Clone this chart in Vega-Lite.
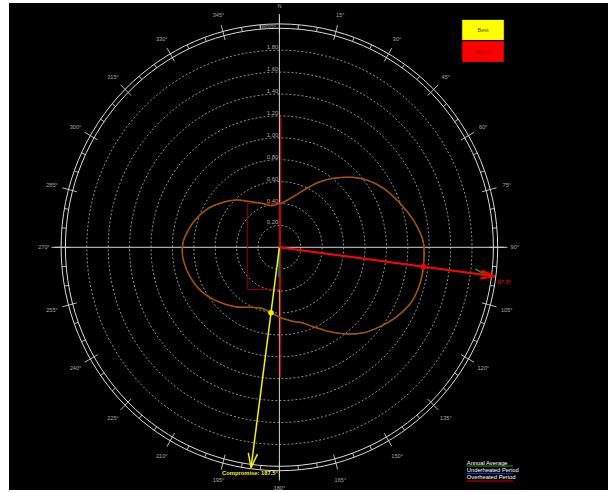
{
  "$schema": "https://vega.github.io/schema/vega-lite/v6.json",
  "width": 599,
  "height": 487,
  "autosize": "none",
  "padding": {"left": 9, "top": 3, "right": 8, "bottom": 3},
  "background": "white",
  "config": {"view": {"fill": "black", "stroke": null}, "font": "Liberation Sans"},
  "datasets": {
    "rings": [
      {"r": 0.2, "lab": "0.20"}, {"r": 0.4, "lab": "0.40"}, {"r": 0.6, "lab": "0.60"},
      {"r": 0.8, "lab": "0.80"}, {"r": 1.0, "lab": "1.00"}, {"r": 1.2, "lab": "1.20"},
      {"r": 1.4, "lab": "1.40"}, {"r": 1.6, "lab": "1.60"}, {"r": 1.8, "lab": "1.80"}
    ],
    "frame": [{"r": 2.0}, {"r": 2.04}],
    "axes": [{"a": 0}, {"a": 90}],
    "ticks": [
      {"a": 0, "k": "major"}, {"a": 5, "k": "minor"}, {"a": 10, "k": "minor"},
      {"a": 15, "k": "major"}, {"a": 20, "k": "minor"}, {"a": 25, "k": "minor"},
      {"a": 30, "k": "major"}, {"a": 35, "k": "minor"}, {"a": 40, "k": "minor"},
      {"a": 45, "k": "major"}, {"a": 50, "k": "minor"}, {"a": 55, "k": "minor"},
      {"a": 60, "k": "major"}, {"a": 65, "k": "minor"}, {"a": 70, "k": "minor"},
      {"a": 75, "k": "major"}, {"a": 80, "k": "minor"}, {"a": 85, "k": "minor"},
      {"a": 90, "k": "major"}, {"a": 95, "k": "minor"}, {"a": 100, "k": "minor"},
      {"a": 105, "k": "major"}, {"a": 110, "k": "minor"}, {"a": 115, "k": "minor"},
      {"a": 120, "k": "major"}, {"a": 125, "k": "minor"}, {"a": 130, "k": "minor"},
      {"a": 135, "k": "major"}, {"a": 140, "k": "minor"}, {"a": 145, "k": "minor"},
      {"a": 150, "k": "major"}, {"a": 155, "k": "minor"}, {"a": 160, "k": "minor"},
      {"a": 165, "k": "major"}, {"a": 170, "k": "minor"}, {"a": 175, "k": "minor"},
      {"a": 180, "k": "major"}, {"a": 185, "k": "minor"}, {"a": 190, "k": "minor"},
      {"a": 195, "k": "major"}, {"a": 200, "k": "minor"}, {"a": 205, "k": "minor"},
      {"a": 210, "k": "major"}, {"a": 215, "k": "minor"}, {"a": 220, "k": "minor"},
      {"a": 225, "k": "major"}, {"a": 230, "k": "minor"}, {"a": 235, "k": "minor"},
      {"a": 240, "k": "major"}, {"a": 245, "k": "minor"}, {"a": 250, "k": "minor"},
      {"a": 255, "k": "major"}, {"a": 260, "k": "minor"}, {"a": 265, "k": "minor"},
      {"a": 270, "k": "major"}, {"a": 275, "k": "minor"}, {"a": 280, "k": "minor"},
      {"a": 285, "k": "major"}, {"a": 290, "k": "minor"}, {"a": 295, "k": "minor"},
      {"a": 300, "k": "major"}, {"a": 305, "k": "minor"}, {"a": 310, "k": "minor"},
      {"a": 315, "k": "major"}, {"a": 320, "k": "minor"}, {"a": 325, "k": "minor"},
      {"a": 330, "k": "major"}, {"a": 335, "k": "minor"}, {"a": 340, "k": "minor"},
      {"a": 345, "k": "major"}, {"a": 350, "k": "minor"}, {"a": 355, "k": "minor"}
    ],
    "compass": [
      {"a": 0, "t": "N"}, {"a": 15, "t": "15°"}, {"a": 30, "t": "30°"}, {"a": 45, "t": "45°"},
      {"a": 60, "t": "60°"}, {"a": 75, "t": "75°"}, {"a": 90, "t": "90°"}, {"a": 105, "t": "105°"},
      {"a": 120, "t": "120°"}, {"a": 135, "t": "135°"}, {"a": 150, "t": "150°"}, {"a": 165, "t": "165°"},
      {"a": 180, "t": "180°"}, {"a": 195, "t": "195°"}, {"a": 210, "t": "210°"}, {"a": 225, "t": "225°"},
      {"a": 240, "t": "240°"}, {"a": 255, "t": "255°"}, {"a": 270, "t": "270°"}, {"a": 285, "t": "285°"},
      {"a": 300, "t": "300°"}, {"a": 315, "t": "315°"}, {"a": 330, "t": "330°"}, {"a": 345, "t": "345°"}
    ],
    "radiation": [
      {"a": 0, "r": 0.402}, {"a": 3, "r": 0.403}, {"a": 15.7, "r": 0.48}, {"a": 25.3, "r": 0.596},
      {"a": 32.3, "r": 0.709}, {"a": 38.7, "r": 0.807}, {"a": 45.9, "r": 0.919}, {"a": 53, "r": 1.022},
      {"a": 60.9, "r": 1.111}, {"a": 70.4, "r": 1.197}, {"a": 78.7, "r": 1.276}, {"a": 85.8, "r": 1.334},
      {"a": 90, "r": 1.351}, {"a": 97.5, "r": 1.357}, {"a": 104, "r": 1.355}, {"a": 111.9, "r": 1.332},
      {"a": 120, "r": 1.266}, {"a": 127.6, "r": 1.187}, {"a": 134.9, "r": 1.106}, {"a": 141.5, "r": 1.011},
      {"a": 148.5, "r": 0.905}, {"a": 156.4, "r": 0.791}, {"a": 163, "r": 0.72}, {"a": 169, "r": 0.69},
      {"a": 175, "r": 0.66}, {"a": 180, "r": 0.636}, {"a": 187.5, "r": 0.602}, {"a": 196.5, "r": 0.581},
      {"a": 205.3, "r": 0.606}, {"a": 217.5, "r": 0.683}, {"a": 229, "r": 0.757}, {"a": 240.8, "r": 0.831},
      {"a": 252.2, "r": 0.877}, {"a": 262.6, "r": 0.905}, {"a": 270, "r": 0.907}, {"a": 276.3, "r": 0.888},
      {"a": 287.5, "r": 0.827}, {"a": 298.2, "r": 0.754}, {"a": 309.3, "r": 0.657}, {"a": 317.3, "r": 0.588},
      {"a": 328, "r": 0.49}, {"a": 337.7, "r": 0.435}, {"a": 349, "r": 0.387}
    ],
    "vectors": [
      {"s": "under", "a1": 0, "r1": 0, "a2": 181, "r2": 0.27},
      {"s": "annual", "a1": 0, "r1": 0, "a2": 185, "r2": 0.18},
      {"s": "annual", "a1": 0, "r1": 0, "a2": 97.5, "r2": 1.96},
      {"s": "annual", "a1": 96.2, "r1": 1.84, "a2": 97.5, "r2": 1.96},
      {"s": "best", "a1": 0, "r1": 0, "a2": 187.5, "r2": 2.03},
      {"s": "best", "a1": 186.2, "r1": 1.9, "a2": 187.5, "r2": 2.03},
      {"s": "best", "a1": 188.8, "r1": 1.9, "a2": 187.5, "r2": 2.03},
      {"s": "worst", "a1": 0, "r1": 0, "a2": 97.5, "r2": 2.03},
      {"s": "worst", "a1": 96.4, "r1": 1.9, "a2": 97.5, "r2": 2.03},
      {"s": "worst", "a1": 98.6, "r1": 1.9, "a2": 97.5, "r2": 2.03}
    ],
    "picks": [
      {"s": "best", "a": 187.5, "r": 0.602},
      {"s": "worst", "a": 97.5, "r": 1.357}
    ]
  },
  "layer": [
    {
      "data": {"name": "rings"},
      "mark": {"type": "point", "shape": "M-1,0A1,1.0234,0,1,1,1,0A1,1.0234,0,1,1,-1,0Z", "filled": false, "stroke": "#b4b4b4", "strokeWidth": 0.8, "strokeDash": [2, 2], "opacity": 1},
      "encoding": {
        "x": {"datum": 0, "type": "quantitative", "scale": {"domain": [-2.5271, 3.071], "nice": false, "zero": false}, "axis": null},
        "y": {"datum": 0, "type": "quantitative", "scale": {"domain": [-2.2164, 2.2311], "nice": false, "zero": false}, "axis": null},
        "size": {"field": "r", "type": "quantitative", "scale": {"type": "pow", "exponent": 2, "domain": [0, 2], "range": [0, 183184]}, "legend": null}
      }
    },
    {
      "data": {"name": "frame"},
      "mark": {"type": "point", "shape": "M-1,0A1,1.0234,0,1,1,1,0A1,1.0234,0,1,1,-1,0Z", "filled": false, "stroke": "#dcdcdc", "strokeWidth": 1, "opacity": 1},
      "encoding": {
        "x": {"datum": 0, "type": "quantitative", "scale": {"domain": [-2.5271, 3.071], "nice": false, "zero": false}, "axis": null},
        "y": {"datum": 0, "type": "quantitative", "scale": {"domain": [-2.2164, 2.2311], "nice": false, "zero": false}, "axis": null},
        "size": {"field": "r", "type": "quantitative", "scale": {"type": "pow", "exponent": 2, "domain": [0, 2], "range": [0, 183184]}, "legend": null}
      }
    },
    {
      "data": {"name": "ticks"},
      "transform": [
        {"calculate": "datum.k == 'major' ? 1.96 : 2.0", "as": "r1"},
        {"calculate": "datum.k == 'major' ? 2.1 : 2.04", "as": "r2"},
        {"calculate": "datum.r1 * sin(datum.a * PI / 180)", "as": "x"},
        {"calculate": "datum.r1 * cos(datum.a * PI / 180)", "as": "y"},
        {"calculate": "datum.r2 * sin(datum.a * PI / 180)", "as": "x2"},
        {"calculate": "datum.r2 * cos(datum.a * PI / 180)", "as": "y2"}
      ],
      "mark": {"type": "rule", "color": "#d0d0d0", "strokeWidth": 0.9},
      "encoding": {
        "x": {"field": "x", "type": "quantitative", "scale": {"domain": [-2.5271, 3.071], "nice": false, "zero": false}, "axis": null},
        "y": {"field": "y", "type": "quantitative", "scale": {"domain": [-2.2164, 2.2311], "nice": false, "zero": false}, "axis": null},
        "x2": {"field": "x2"},
        "y2": {"field": "y2"}
      }
    },
    {
      "data": {"name": "axes"},
      "transform": [
        {"calculate": "2.13 * sin(datum.a * PI / 180)", "as": "x"},
        {"calculate": "2.13 * cos(datum.a * PI / 180)", "as": "y"},
        {"calculate": "-datum.x", "as": "x2"},
        {"calculate": "-datum.y", "as": "y2"}
      ],
      "mark": {"type": "rule", "color": "#d4d4d4", "strokeWidth": 1},
      "encoding": {
        "x": {"field": "x", "type": "quantitative", "scale": {"domain": [-2.5271, 3.071], "nice": false, "zero": false}, "axis": null},
        "y": {"field": "y", "type": "quantitative", "scale": {"domain": [-2.2164, 2.2311], "nice": false, "zero": false}, "axis": null},
        "x2": {"field": "x2"},
        "y2": {"field": "y2"}
      }
    },
    {
      "data": {"name": "rings"},
      "mark": {"type": "text", "align": "right", "baseline": "bottom", "dx": -1, "fontSize": 6, "color": "#a8a8a8"},
      "encoding": {
        "x": {"datum": 0, "type": "quantitative", "scale": {"domain": [-2.5271, 3.071], "nice": false, "zero": false}, "axis": null},
        "y": {"field": "r", "type": "quantitative", "scale": {"domain": [-2.2164, 2.2311], "nice": false, "zero": false}, "axis": null},
        "text": {"field": "lab"}
      }
    },
    {
      "data": {"name": "compass"},
      "transform": [
        {"calculate": "2.2 * sin(datum.a * PI / 180)", "as": "x"},
        {"calculate": "2.2 * cos(datum.a * PI / 180)", "as": "y"}
      ],
      "mark": {"type": "text", "align": "center", "baseline": "middle", "fontSize": 5.6, "color": "#a8a8a8"},
      "encoding": {
        "x": {"field": "x", "type": "quantitative", "scale": {"domain": [-2.5271, 3.071], "nice": false, "zero": false}, "axis": null},
        "y": {"field": "y", "type": "quantitative", "scale": {"domain": [-2.2164, 2.2311], "nice": false, "zero": false}, "axis": null},
        "text": {"field": "t"}
      }
    },
    {
      "data": {"values": [{"t": "kWh/m²"}]},
      "mark": {"type": "text", "align": "right", "baseline": "middle", "fontSize": 5, "color": "#a8a8a8"},
      "encoding": {
        "x": {"datum": -0.03, "type": "quantitative", "scale": {"domain": [-2.5271, 3.071], "nice": false, "zero": false}, "axis": null},
        "y": {"datum": 2.02, "type": "quantitative", "scale": {"domain": [-2.2164, 2.2311], "nice": false, "zero": false}, "axis": null},
        "text": {"field": "t"}
      }
    },
    {
      "data": {"values": [{"t": "period"}]},
      "mark": {"type": "rect", "fillOpacity": 0, "stroke": "#a00000", "strokeWidth": 1},
      "encoding": {
        "x": {"datum": -0.296, "type": "quantitative", "scale": {"domain": [-2.5271, 3.071], "nice": false, "zero": false}, "axis": null},
        "x2": {"datum": 0},
        "y": {"datum": -0.384, "type": "quantitative", "scale": {"domain": [-2.2164, 2.2311], "nice": false, "zero": false}, "axis": null},
        "y2": {"datum": 0.402}
      }
    },
    {
      "data": {"values": [{"t": "span"}]},
      "mark": {"type": "rule", "color": "#c80000", "strokeWidth": 1.2},
      "encoding": {
        "x": {"datum": 0.012, "type": "quantitative", "scale": {"domain": [-2.5271, 3.071], "nice": false, "zero": false}, "axis": null},
        "x2": {"datum": 0.008},
        "y": {"datum": 1.19, "type": "quantitative", "scale": {"domain": [-2.2164, 2.2311], "nice": false, "zero": false}, "axis": null},
        "y2": {"datum": -1.19}
      }
    },
    {
      "data": {"name": "vectors"},
      "transform": [
        {"filter": "datum.s == 'under' || datum.s == 'annual'"},
        {"calculate": "datum.r1 * sin(datum.a1 * PI / 180)", "as": "x"},
        {"calculate": "datum.r1 * cos(datum.a1 * PI / 180)", "as": "y"},
        {"calculate": "datum.r2 * sin(datum.a2 * PI / 180)", "as": "x2"},
        {"calculate": "datum.r2 * cos(datum.a2 * PI / 180)", "as": "y2"}
      ],
      "mark": {"type": "rule", "strokeWidth": 1.3},
      "encoding": {
        "x": {"field": "x", "type": "quantitative", "scale": {"domain": [-2.5271, 3.071], "nice": false, "zero": false}, "axis": null},
        "y": {"field": "y", "type": "quantitative", "scale": {"domain": [-2.2164, 2.2311], "nice": false, "zero": false}, "axis": null},
        "x2": {"field": "x2"},
        "y2": {"field": "y2"},
        "color": {"field": "s", "type": "nominal", "scale": {"domain": ["under", "annual", "best", "worst"], "range": ["#007a8a", "#1f9a1f", "#f2f200", "#ff0000"]}, "legend": null}
      }
    },
    {
      "data": {"name": "radiation"},
      "transform": [
        {"calculate": "datum.r * sin(datum.a * PI / 180)", "as": "x"},
        {"calculate": "datum.r * cos(datum.a * PI / 180)", "as": "y"}
      ],
      "mark": {"type": "line", "interpolate": "cardinal-closed", "color": "#1e8c1e", "strokeWidth": 1.5},
      "encoding": {
        "x": {"field": "x", "type": "quantitative", "scale": {"domain": [-2.5271, 3.071], "nice": false, "zero": false}, "axis": null},
        "y": {"field": "y", "type": "quantitative", "scale": {"domain": [-2.2164, 2.2311], "nice": false, "zero": false}, "axis": null},
        "order": {"field": "a", "type": "quantitative"}
      }
    },
    {
      "data": {"name": "radiation"},
      "transform": [
        {"calculate": "datum.r * sin(datum.a * PI / 180)", "as": "x"},
        {"calculate": "datum.r * cos(datum.a * PI / 180)", "as": "y"}
      ],
      "mark": {"type": "line", "interpolate": "cardinal-closed", "color": "#e83000", "strokeWidth": 1.05, "opacity": 1},
      "encoding": {
        "x": {"field": "x", "type": "quantitative", "scale": {"domain": [-2.5271, 3.071], "nice": false, "zero": false}, "axis": null},
        "y": {"field": "y", "type": "quantitative", "scale": {"domain": [-2.2164, 2.2311], "nice": false, "zero": false}, "axis": null},
        "order": {"field": "a", "type": "quantitative"}
      }
    },
    {
      "data": {"name": "vectors"},
      "transform": [
        {"filter": "datum.s == 'best'"},
        {"calculate": "datum.r1 * sin(datum.a1 * PI / 180)", "as": "x"},
        {"calculate": "datum.r1 * cos(datum.a1 * PI / 180)", "as": "y"},
        {"calculate": "datum.r2 * sin(datum.a2 * PI / 180)", "as": "x2"},
        {"calculate": "datum.r2 * cos(datum.a2 * PI / 180)", "as": "y2"}
      ],
      "mark": {"type": "rule", "strokeWidth": 1.5},
      "encoding": {
        "x": {"field": "x", "type": "quantitative", "scale": {"domain": [-2.5271, 3.071], "nice": false, "zero": false}, "axis": null},
        "y": {"field": "y", "type": "quantitative", "scale": {"domain": [-2.2164, 2.2311], "nice": false, "zero": false}, "axis": null},
        "x2": {"field": "x2"},
        "y2": {"field": "y2"},
        "color": {"field": "s", "type": "nominal", "scale": {"domain": ["under", "annual", "best", "worst"], "range": ["#007a8a", "#1f9a1f", "#f2f200", "#ff0000"]}, "legend": null}
      }
    },
    {
      "data": {"name": "vectors"},
      "transform": [
        {"filter": "datum.s == 'worst'"},
        {"calculate": "datum.r1 * sin(datum.a1 * PI / 180)", "as": "x"},
        {"calculate": "datum.r1 * cos(datum.a1 * PI / 180)", "as": "y"},
        {"calculate": "datum.r2 * sin(datum.a2 * PI / 180)", "as": "x2"},
        {"calculate": "datum.r2 * cos(datum.a2 * PI / 180)", "as": "y2"}
      ],
      "mark": {"type": "rule", "strokeWidth": 2},
      "encoding": {
        "x": {"field": "x", "type": "quantitative", "scale": {"domain": [-2.5271, 3.071], "nice": false, "zero": false}, "axis": null},
        "y": {"field": "y", "type": "quantitative", "scale": {"domain": [-2.2164, 2.2311], "nice": false, "zero": false}, "axis": null},
        "x2": {"field": "x2"},
        "y2": {"field": "y2"},
        "color": {"field": "s", "type": "nominal", "scale": {"domain": ["under", "annual", "best", "worst"], "range": ["#007a8a", "#1f9a1f", "#f2f200", "#ff0000"]}, "legend": null}
      }
    },
    {
      "data": {"name": "picks"},
      "transform": [
        {"calculate": "datum.r * sin(datum.a * PI / 180)", "as": "x"},
        {"calculate": "datum.r * cos(datum.a * PI / 180)", "as": "y"}
      ],
      "mark": {"type": "circle", "size": 30, "opacity": 1},
      "encoding": {
        "x": {"field": "x", "type": "quantitative", "scale": {"domain": [-2.5271, 3.071], "nice": false, "zero": false}, "axis": null},
        "y": {"field": "y", "type": "quantitative", "scale": {"domain": [-2.2164, 2.2311], "nice": false, "zero": false}, "axis": null},
        "color": {"field": "s", "type": "nominal", "scale": {"domain": ["under", "annual", "best", "worst"], "range": ["#007a8a", "#1f9a1f", "#f2f200", "#ff0000"]}, "legend": null}
      }
    },
    {
      "data": {"values": [{"t": "Compromise: 187.5°"}]},
      "mark": {"type": "text", "align": "center", "baseline": "middle", "fontSize": 5.8, "fontWeight": "bold", "color": "#f2f200"},
      "encoding": {
        "x": {"datum": -0.275, "type": "quantitative", "scale": {"domain": [-2.5271, 3.071], "nice": false, "zero": false}, "axis": null},
        "y": {"datum": -2.061, "type": "quantitative", "scale": {"domain": [-2.2164, 2.2311], "nice": false, "zero": false}, "axis": null},
        "text": {"field": "t"}
      }
    },
    {
      "data": {"values": [{"t": "97.5°"}]},
      "mark": {"type": "text", "align": "left", "baseline": "middle", "fontSize": 5.8, "color": "#ff0000"},
      "encoding": {
        "x": {"datum": 2.039, "type": "quantitative", "scale": {"domain": [-2.5271, 3.071], "nice": false, "zero": false}, "axis": null},
        "y": {"datum": -0.314, "type": "quantitative", "scale": {"domain": [-2.2164, 2.2311], "nice": false, "zero": false}, "axis": null},
        "text": {"field": "t"}
      }
    },
    {
      "data": {"values": [{"t": "Best"}]},
      "mark": {"type": "rect", "fill": "#ffff00", "stroke": "#000000", "strokeWidth": 1},
      "encoding": {
        "x": {"datum": 1.704, "type": "quantitative", "scale": {"domain": [-2.5271, 3.071], "nice": false, "zero": false}, "axis": null},
        "x2": {"datum": 2.102},
        "y": {"datum": 1.887, "type": "quantitative", "scale": {"domain": [-2.2164, 2.2311], "nice": false, "zero": false}, "axis": null},
        "y2": {"datum": 2.082}
      }
    },
    {
      "data": {"values": [{"t": "Worst"}]},
      "mark": {"type": "rect", "fill": "#ff0000", "stroke": "#000000", "strokeWidth": 1},
      "encoding": {
        "x": {"datum": 1.704, "type": "quantitative", "scale": {"domain": [-2.5271, 3.071], "nice": false, "zero": false}, "axis": null},
        "x2": {"datum": 2.102},
        "y": {"datum": 1.689, "type": "quantitative", "scale": {"domain": [-2.2164, 2.2311], "nice": false, "zero": false}, "axis": null},
        "y2": {"datum": 1.887}
      }
    },
    {
      "data": {"values": [{"t": "Best"}]},
      "mark": {"type": "text", "align": "center", "baseline": "middle", "fontSize": 5.6, "color": "#505000"},
      "encoding": {
        "x": {"datum": 1.903, "type": "quantitative", "scale": {"domain": [-2.5271, 3.071], "nice": false, "zero": false}, "axis": null},
        "y": {"datum": 1.985, "type": "quantitative", "scale": {"domain": [-2.2164, 2.2311], "nice": false, "zero": false}, "axis": null},
        "text": {"field": "t"}
      }
    },
    {
      "data": {"values": [{"t": "Worst"}]},
      "mark": {"type": "text", "align": "center", "baseline": "middle", "fontSize": 5.6, "color": "#800000"},
      "encoding": {
        "x": {"datum": 1.903, "type": "quantitative", "scale": {"domain": [-2.5271, 3.071], "nice": false, "zero": false}, "axis": null},
        "y": {"datum": 1.788, "type": "quantitative", "scale": {"domain": [-2.2164, 2.2311], "nice": false, "zero": false}, "axis": null},
        "text": {"field": "t"}
      }
    },
    {
      "data": {"values": [{"t": "Annual Average"}]},
      "mark": {"type": "text", "align": "left", "baseline": "middle", "fontSize": 5.8, "color": "#ffffff"},
      "encoding": {
        "x": {"datum": 1.751, "type": "quantitative", "scale": {"domain": [-2.5271, 3.071], "nice": false, "zero": false}, "axis": null},
        "y": {"datum": -1.967, "type": "quantitative", "scale": {"domain": [-2.2164, 2.2311], "nice": false, "zero": false}, "axis": null},
        "text": {"field": "t"}
      }
    },
    {
      "data": {"values": [{"t": "Underheated Period"}]},
      "mark": {"type": "text", "align": "left", "baseline": "middle", "fontSize": 5.8, "color": "#ffffff"},
      "encoding": {
        "x": {"datum": 1.751, "type": "quantitative", "scale": {"domain": [-2.5271, 3.071], "nice": false, "zero": false}, "axis": null},
        "y": {"datum": -2.034, "type": "quantitative", "scale": {"domain": [-2.2164, 2.2311], "nice": false, "zero": false}, "axis": null},
        "text": {"field": "t"}
      }
    },
    {
      "data": {"values": [{"t": "Overheated Period"}]},
      "mark": {"type": "text", "align": "left", "baseline": "middle", "fontSize": 5.8, "color": "#ffffff"},
      "encoding": {
        "x": {"datum": 1.751, "type": "quantitative", "scale": {"domain": [-2.5271, 3.071], "nice": false, "zero": false}, "axis": null},
        "y": {"datum": -2.1, "type": "quantitative", "scale": {"domain": [-2.2164, 2.2311], "nice": false, "zero": false}, "axis": null},
        "text": {"field": "t"}
      }
    },
    {
      "data": {"values": [{"t": "Annual Average"}]},
      "mark": {"type": "rule", "color": "#1f9a1f", "strokeWidth": 1.2},
      "encoding": {
        "x": {"datum": 1.751, "type": "quantitative", "scale": {"domain": [-2.5271, 3.071], "nice": false, "zero": false}, "axis": null},
        "x2": {"datum": 2.183},
        "y": {"datum": -1.997, "type": "quantitative", "scale": {"domain": [-2.2164, 2.2311], "nice": false, "zero": false}, "axis": null}
      }
    },
    {
      "data": {"values": [{"t": "Underheated Period"}]},
      "mark": {"type": "rule", "color": "#1030c0", "strokeWidth": 1.2},
      "encoding": {
        "x": {"datum": 1.751, "type": "quantitative", "scale": {"domain": [-2.5271, 3.071], "nice": false, "zero": false}, "axis": null},
        "x2": {"datum": 2.183},
        "y": {"datum": -2.064, "type": "quantitative", "scale": {"domain": [-2.2164, 2.2311], "nice": false, "zero": false}, "axis": null}
      }
    },
    {
      "data": {"values": [{"t": "Overheated Period"}]},
      "mark": {"type": "rule", "color": "#e00000", "strokeWidth": 1.2},
      "encoding": {
        "x": {"datum": 1.751, "type": "quantitative", "scale": {"domain": [-2.5271, 3.071], "nice": false, "zero": false}, "axis": null},
        "x2": {"datum": 2.183},
        "y": {"datum": -2.134, "type": "quantitative", "scale": {"domain": [-2.2164, 2.2311], "nice": false, "zero": false}, "axis": null}
      }
    }
  ]
}
